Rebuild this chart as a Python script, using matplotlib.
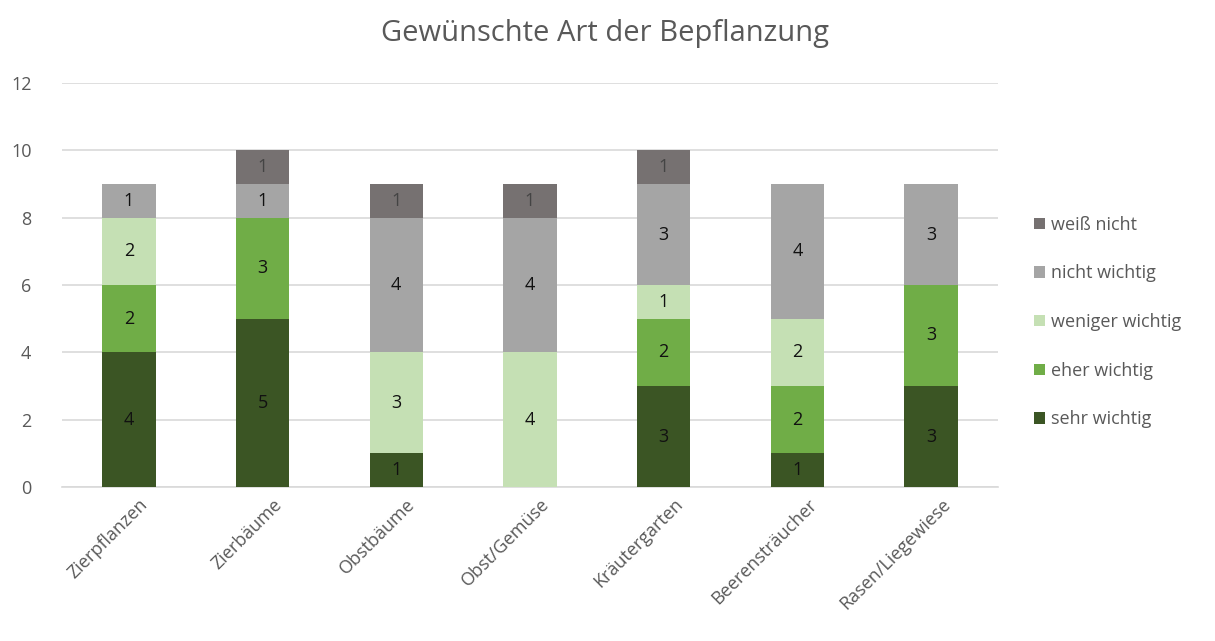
import numpy as np
import matplotlib.pyplot as plt
import matplotlib.transforms as mtransforms

plt.rcParams['font.family'] = ['Open Sans', 'DejaVu Sans']

categories = ["Zierpflanzen", "Zierbäume", "Obstbäume", "Obst/Gemüse",
              "Kräutergarten", "Beerensträucher", "Rasen/Liegewiese"]
sehr_wichtig = [4, 5, 1, 0, 3, 1, 3]
eher_wichtig = [2, 3, 0, 0, 2, 2, 3]
weniger_wichtig = [2, 0, 3, 4, 1, 2, 0]
nicht_wichtig = [1, 1, 4, 4, 3, 4, 3]
weiss_nicht = [0, 1, 1, 1, 1, 0, 0]

series = [
    ("sehr wichtig", sehr_wichtig, "#3B5524", "#111111"),
    ("eher wichtig", eher_wichtig, "#70AD47", "#111111"),
    ("weniger wichtig", weniger_wichtig, "#C5E0B4", "#111111"),
    ("nicht wichtig", nicht_wichtig, "#A5A5A5", "#111111"),
    ("weiß nicht", weiss_nicht, "#767171", "#444444"),
]

fig = plt.figure(figsize=(12.15, 6.41), dpi=100)
ax = fig.add_axes([62 / 1215, 1 - 487 / 641, 936 / 1215, 404 / 641])

x = np.arange(len(categories))
bottom = np.zeros(len(categories))
handles = []
for name, vals, color, tcolor in series:
    vals = np.array(vals, dtype=float)
    bars = ax.bar(x, vals, 0.4, bottom=bottom, color=color, label=name, zorder=3)
    handles.append(bars)
    for xi, b, v in zip(x, bottom, vals):
        if v > 0:
            ax.text(xi, b + v / 2, f"{int(v)}", ha="center", va="center",
                    fontsize=13, color=tcolor, zorder=4)
    bottom += vals

ax.set_xlim(-0.5, len(categories) - 0.5)
ax.set_ylim(0, 12)
ax.set_yticks(range(0, 13, 2))
ax.yaxis.grid(True, color="#D9D9D9", linewidth=1.2, zorder=0)
ax.set_axisbelow(True)
for s in ["top", "right", "left"]:
    ax.spines[s].set_visible(False)
ax.spines["bottom"].set_color("#D9D9D9")
ax.spines["bottom"].set_linewidth(1.2)
ax.tick_params(axis="both", length=0, labelsize=13, labelcolor="#595959")
ax.tick_params(axis="y", pad=22)
ax.tick_params(axis="x", pad=6)
ax.set_xticks(x)
ax.set_xticklabels(categories, rotation=45, ha="right", rotation_mode="anchor")
# nudge rotated labels to the right like the original
shift = mtransforms.ScaledTranslation(10 / 100, 0, fig.dpi_scale_trans)
for lbl in ax.get_xticklabels():
    lbl.set_transform(lbl.get_transform() + shift)

fig.text(605 / 1215, 1 - 33 / 641, "Gewünschte Art der Bepflanzung",
         ha="center", va="center", fontsize=21, color="#595959")

leg = fig.legend(handles[::-1], [s[0] for s in series][::-1],
                 loc="center left", bbox_to_anchor=(1018 / 1215, 1 - 322 / 641),
                 frameon=False, fontsize=13, labelcolor="#595959",
                 handlelength=0.6, handleheight=0.6, handletextpad=0.35,
                 labelspacing=1.7)

fig.savefig("out.png", dpi=100)
